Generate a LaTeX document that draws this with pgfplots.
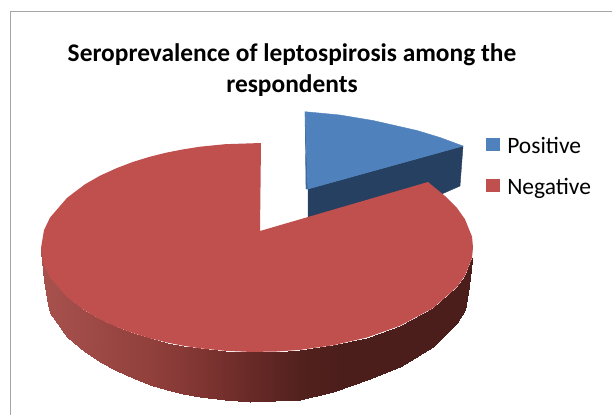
\documentclass[border=0pt]{standalone}
\usepackage{pgfplots}
\pgfplotsset{compat=1.18}
\usepackage{fontspec}
\setmainfont{Carlito}
\definecolor{cblue}{HTML}{4F81BD}
\definecolor{cblued}{HTML}{254061}
\definecolor{cbluew}{HTML}{3E6A9E}
\definecolor{cred}{HTML}{C0504D}
\definecolor{frameg}{HTML}{A6A6A6}
\newcommand{\strip}[2]{\addplot[fill=#1,draw=#1,line width=0.4pt,forget plot] coordinates {#2} -- cycle;}
\pgfplotstableread{
x y
41.5 248
44 264.9
44 280
41.5 252
44 264.9
48 273.9
48 305
44 280
48 273.9
50 277.4
50 313
48 305
50 277.4
67 297.1
67 337
50 313
67 297.1
85 310.7
85 351.5
67 337
85 310.7
100 319.3
100 362
85 351.5
100 319.3
117 327.1
117 370.5
100 362
117 327.1
133 333.1
133 378
117 370.5
133 333.1
150 338.3
150 384.5
133 378
150 338.3
167 342.5
167 390
150 384.5
167 342.5
183 345.7
183 394
167 390
183 345.7
200 348.3
200 397
183 394
200 348.3
225 350.8
225 400.3
200 397
225 350.8
250 351.9
250 402
225 400.3
250 351.9
275 351.6
275 401.3
250 402
275 351.6
300 349.9
300 399.5
275 401.3
300 349.9
333 345.3
333 392
300 399.5
333 345.3
367 337.5
367 380
333 392
367 337.5
400 325.8
400 367
367 380
400 325.8
433 308.1
433 347
400 367
433 308.1
457 287
457 323
433 347
457 287
465 275.7
465 310
457 323
465 275.7
468 268
468 293
465 310
468 268
472 258
471 270
468 293
}\sidetable
\begin{document}
\begin{tikzpicture}
\begin{axis}[
  width=612pt,height=415pt,scale only axis,
  xmin=0,xmax=612,ymin=0,ymax=415,y dir=reverse,
  axis line style={draw=none},ticks=none,clip=true,
  colormap={side}{rgb255(41pt)=(168,82,78); rgb255(100pt)=(156,72,68); rgb255(150pt)=(145,64,60); rgb255(200pt)=(128,53,50); rgb255(250pt)=(105,42,39); rgb255(300pt)=(82,33,30); rgb255(340pt)=(76,30,27); rgb255(473pt)=(75,30,27)},
  point meta min=41,point meta max=473,
  legend cell align=left,
  legend style={at={(axis cs:483.7,134)},anchor=north west,draw=none,fill=none,
    font=\fontsize{23.5}{28}\selectfont,row sep=21.5pt,inner sep=2pt,
    nodes={inner sep=1pt}},
  legend image code/.code={\fill[#1] (0pt,-4.3pt) rectangle (13.3pt,8.3pt);\path (20pt,0pt);},
]
% chart frame
\addplot[frameg,line width=1.2pt,forget plot] coordinates {(10.5,415) (10.5,11.5) (612,11.5)};
% Positive slice: side
\strip{cblued}{(308,189) (463,146) (460,186) (428,200) (308,217)}
% Positive slice: inner wall sliver and top
\strip{cbluew}{(305,112) (308,189) (306,189)}
\strip{cblue}{(305,111.7) (340,115) (373,120.5) (417,130.5) (440,137.5) (463,146) (308,189)}
% Negative slice: side
\addplot[patch,patch type=rectangle,shader=interp,point meta=x,forget plot] table {\sidetable};
% Negative slice: top
\addplot[fill=cred,draw=none,forget plot] coordinates {
 (260,231) (261,143) (225,144.2) (200,146.7) (183,149.4) (167,152.5) (150,156.7)
 (133,161.9) (117,168) (100,175.7) (85,184.3) (67,197.9) (50,217.6) (44,230.2)
 (41,248) (44,264.9) (50,277.4) (67,297.1) (85,310.7) (100,319.3) (117,327.1)
 (133,333.1) (150,338.3) (167,342.5) (183,345.7) (200,348.3) (225,350.8) (250,351.9)
 (275,351.6) (300,349.9) (333,345.3) (367,337.5) (400,325.8) (433,308.1) (457,287)
 (465,275.7) (472,258) (473,247.5) (472,236.6) (465,219.3) (457,208) (445,196) (428,182)
} -- cycle;
\addlegendimage{cblue}
\addlegendentry{Positive}
\addlegendimage{cred}
\addlegendentry{Negative}
\node[align=center,font=\fontsize{25.4}{31}\selectfont\bfseries,anchor=center] at (axis cs:292,70.5)
  {Seroprevalence of leptospirosis among the\\respondents};
\end{axis}
\end{tikzpicture}
\end{document}
